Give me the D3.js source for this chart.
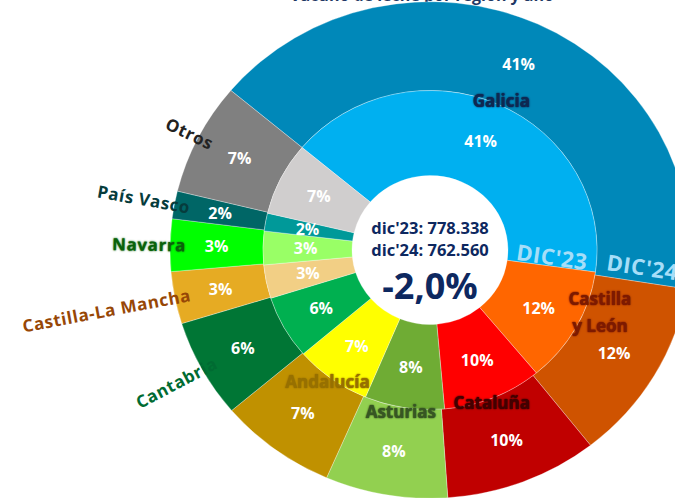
<!DOCTYPE html>
<html>
<head>
<meta charset="utf-8">
<script src="https://cdn.jsdelivr.net/npm/d3@7"></script>
<style>
  html, body { margin: 0; padding: 0; background: #fff; }
  svg { display: block; font-family: "Open Sans", "Noto Sans", sans-serif; }
</style>
</head>
<body>
<div id="chart"></div>
<script>
// regions, clockwise from Galicia
var categories = ["Galicia", "Castilla y León", "Cataluña", "Asturias", "Andalucía",
                  "Cantabria", "Castilla-La Mancha", "Navarra", "País Vasco", "Otros"];
// share of the total (%) - inner ring dic'23, outer ring dic'24
var dic23 = [41.1, 11.8, 9.6, 7.7, 7.4, 6.4, 3.4, 3.4, 1.8, 7.4];
var dic24 = [41.4, 11.9, 9.5, 7.6, 7.3, 6.4, 3.4, 3.4, 1.8, 7.3];
var totals = [778338, 762560];
var periods = ["DIC'23", "DIC'24"];
var totalLabels = ["dic'23", "dic'24"];

var colours23 = ["#00b0f0", "#ff6600", "#ff0000", "#6fac34", "#ffff00",
                 "#00b050", "#f2cf85", "#99ff66", "#009999", "#d0cece"];
var colours24 = ["#0088b9", "#cf5300", "#c00000", "#92d050", "#c09100",
                 "#007635", "#e6ab23", "#00ff00", "#006666", "#808080"];
var labelColours = ["#0e2852", "#7d1a00", "#420000", "#375623", "#977000",
                    "#006b32", "#974706", "#0a620a", "#063c3c", "#222222"];

var w = 675, h = 498;
var cx = 430, cy = 250, sy = 0.955;
var rHole = 78, rMid = 167, rOut = 260;
var start = -50 * Math.PI / 180;

var svg = d3.select("#chart").append("svg")
  .attr("width", w)
  .attr("height", h);

// title, mostly above the picture
svg.append("text")
  .attr("x", 422).attr("y", 1)
  .attr("text-anchor", "middle")
  .attr("font-size", 16)
  .attr("font-weight", 700)
  .attr("fill", "#1f3864")
  .text("Vacuno de leche por región y año");

var pie = d3.pie().sort(null).value(function(d) { return d; })
  .startAngle(start).endAngle(start + 2 * Math.PI);

var arcs23 = pie(dic23);
var arcs24 = pie(dic24);

function pt(a, r) {
  return [r * Math.sin(a), -r * Math.cos(a) * sy];
}
function mid(d) { return (d.startAngle + d.endAngle) / 2; }

var rings = svg.append("g")
  .attr("transform", "translate(" + cx + "," + cy + ") scale(1," + sy + ")");

var arcIn = d3.arc().innerRadius(rHole).outerRadius(rMid);
var arcOut = d3.arc().innerRadius(rMid).outerRadius(rOut);

rings.selectAll("path.outer")
  .data(arcs24)
  .enter()
  .append("path")
  .attr("class", "outer")
  .attr("d", arcOut)
  .attr("fill", function(d, i) { return colours24[i]; })
  .attr("stroke", "#ffffff")
  .attr("stroke-opacity", 0.45)
  .attr("stroke-width", 0.7);

rings.selectAll("path.inner")
  .data(arcs23)
  .enter()
  .append("path")
  .attr("class", "inner")
  .attr("d", arcIn)
  .attr("fill", function(d, i) { return colours23[i]; })
  .attr("stroke", "#ffffff")
  .attr("stroke-opacity", 0.45)
  .attr("stroke-width", 0.7);

var labels = svg.append("g")
  .attr("transform", "translate(" + cx + "," + cy + ")");

// percentages
function pctLabels(data, r) {
  labels.selectAll(null)
    .data(data)
    .enter()
    .append("text")
    .attr("x", function(d) { return pt(mid(d), r)[0]; })
    .attr("y", function(d) { return pt(mid(d), r)[1]; })
    .attr("dy", "0.36em")
    .attr("text-anchor", "middle")
    .attr("font-size", 16)
    .attr("font-weight", 700)
    .attr("fill", "#ffffff")
    .text(function(d) { return Math.round(d.value) + "%"; });
}
pctLabels(arcs23, (rHole + rMid) / 2 + 2);
pctLabels(arcs24, (rMid + rOut) / 2);

// DIC'23 / DIC'24 along the Galicia edge
var edge = arcs23[0].endAngle - 0.02;
var rot = (edge * 180 / Math.PI) - 90 + 1.5;
[[periods[0], 86], [periods[1], 177]].forEach(function(p) {
  var q = pt(edge, p[1]);
  labels.append("text")
    .attr("transform", "translate(" + q[0] + "," + q[1] + ") rotate(" + rot + ")")
    .attr("font-size", 22)
    .attr("font-weight", 700)
    .attr("letter-spacing", 0.5)
    .attr("fill", "#a6def8")
    .text(p[0]);
});

// names on the ring border (first five)
var nameTweak = {1: {a: 111, r: 182}};
arcs24.slice(0, 5).forEach(function(d, i) {
  var a = mid(d), r = 172;
  if (nameTweak[i]) { a = nameTweak[i].a * Math.PI / 180; r = nameTweak[i].r; }
  var q = pt(a, r);
  var lines = i === 1 ? ["Castilla", "y León"] : [categories[i]];
  var t = labels.append("text")
    .attr("x", q[0])
    .attr("y", q[1] - (lines.length - 1) * 13)
    .attr("text-anchor", "middle")
    .attr("font-size", 17)
    .attr("font-weight", 700)
    .attr("fill", labelColours[i])
    .style("text-shadow", "0 0 2px " + labelColours[i] + ", 0 0 1px " + labelColours[i]);
  lines.forEach(function(l, k) {
    t.append("tspan")
      .attr("x", q[0])
      .attr("dy", k === 0 ? "0.36em" : "1.55em")
      .text(l);
  });
});

// names outside, radial (last five)
arcs24.slice(5).forEach(function(d, j) {
  var i = j + 5;
  var a = mid(d);
  var q = pt(a, 244);
  var ang = Math.atan2(-q[1], -q[0]) * 180 / Math.PI;
  labels.append("text")
    .attr("transform", "translate(" + q[0] + "," + q[1] + ") rotate(" + ang + ")")
    .attr("dy", "0.36em")
    .attr("text-anchor", "end")
    .attr("font-size", 17)
    .attr("font-weight", 700)
    .attr("letter-spacing", 0.6)
    .attr("fill", labelColours[i])
    .style("text-shadow", i === 7 ? "0 0 2px " + labelColours[i] : null)
    .text(categories[i]);
});

// centre hole text
var fmt = d3.formatLocale({decimal: ",", thousands: ".", grouping: [3], minus: "-"});
var change = totals[1] / totals[0] - 1;
totalLabels.forEach(function(l, k) {
  labels.append("text")
    .attr("x", 0)
    .attr("y", -16 + k * 22)
    .attr("text-anchor", "middle")
    .attr("font-size", 16.5)
    .attr("font-weight", 700)
    .attr("fill", "#0d2860")
    .text(l + ": " + fmt.format(",")(totals[k]));
});
labels.append("text")
  .attr("x", 0)
  .attr("y", 49)
  .attr("text-anchor", "middle")
  .attr("font-size", 36)
  .attr("font-weight", 700)
  .attr("fill", "#0d2860")
  .text(fmt.format(".1f")(change * 100) + "%");
</script>
</body>
</html>
